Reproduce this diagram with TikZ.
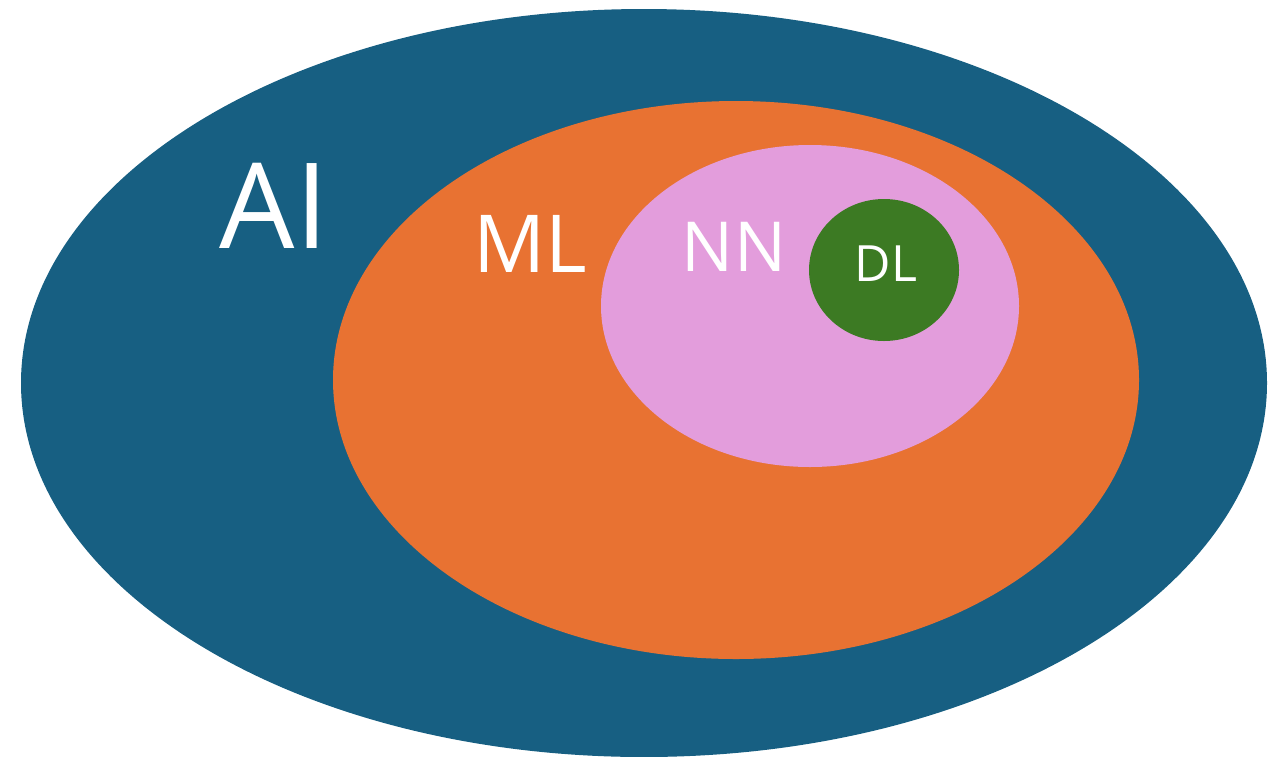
\documentclass[tikz,border=0pt]{standalone}
\usepackage{fontspec}
\setmainfont{Open Sans}
\definecolor{aiblue}{HTML}{175F82}
\definecolor{mlorange}{HTML}{E87232}
\definecolor{nnpink}{HTML}{E39DDC}
\definecolor{dlgreen}{HTML}{3C7A23}
\begin{document}
\begin{tikzpicture}[x=1pt,y=-1pt,
  lbl/.style={text=white,inner sep=0pt,anchor=base}]
\useasboundingbox (0,0) rectangle (1281,756);
\fill[aiblue] (644,383) ellipse [x radius=623, y radius=374];
\fill[mlorange] (736,380) ellipse [x radius=403, y radius=279];
\fill[nnpink] (810,306) ellipse [x radius=209, y radius=161];
\fill[dlgreen] (884,270) ellipse [x radius=75, y radius=71];
\node[lbl,font=\fontsize{119}{119}\selectfont] (ai) at (274,248) {AI};
\node[lbl,font=\fontsize{80}{80}\selectfont] (ml) at (530,272) {ML};
\node[lbl,font=\fontsize{69}{69}\selectfont] (nn) at (734,271) {NN};
\node[lbl,font=\fontsize{50}{50}\selectfont] (dl) at (886,281) {DL};
\end{tikzpicture}
\end{document}
